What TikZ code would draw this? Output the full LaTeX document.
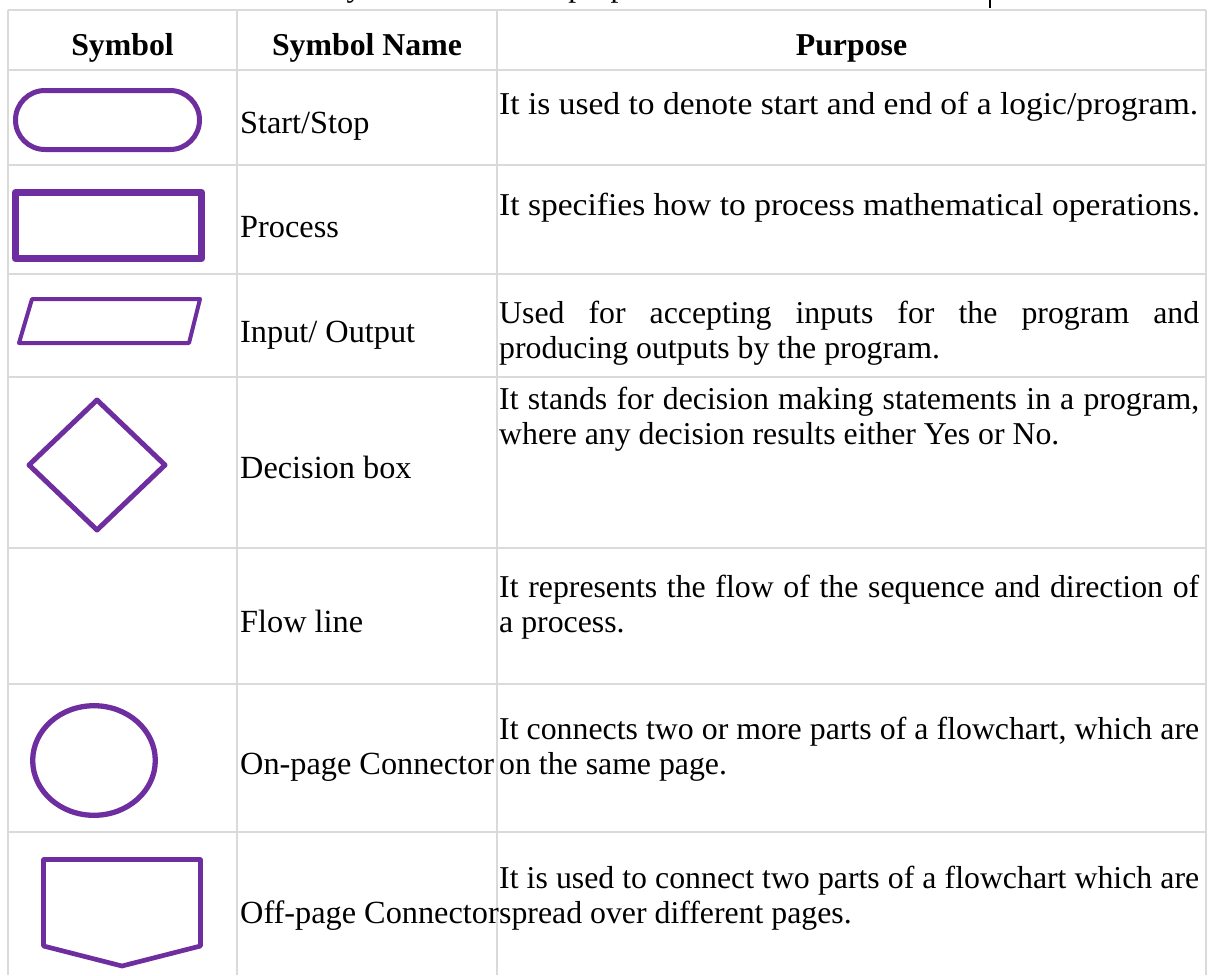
\documentclass[tikz,border=0pt]{standalone}
\usepackage{fontspec}
\usepackage{graphicx}
\setmainfont{Liberation Serif}
\definecolor{symviolet}{RGB}{110,46,160}
\definecolor{gridgray}{RGB}{218,218,218}
\begin{document}
\begin{tikzpicture}[x=1pt,y=-1pt,
  rule/.style={draw=gridgray,line width=2.2pt},
  symline/.style={draw=symviolet,line join=round},
  txt/.style={inner sep=0pt,font=\fontsize{31.8pt}{35pt}\selectfont},
  headtxt/.style={txt,font=\fontsize{31.8pt}{35pt}\selectfont\bfseries,anchor=base},
  celltxt/.style={txt,anchor=base west},
  nametxt/.style={celltxt,font=\fontsize{32.3pt}{35pt}\selectfont}
]
\useasboundingbox (0,0) rectangle (1215,975);
% first lines of the purpose cells fill the cell width
\newcommand\fullline[1]{\makebox[700pt][s]{#1}}
\newcommand\wideline[1]{\scalebox{1.054}[1]{#1}}

% line of text above the table, mostly cut off by the page edge
\begin{scope}
  \clip (0,0) rectangle (1215,975);
  \node[celltxt] (above) at (334,-4) {symbols and their purpose};
\end{scope}
\draw[line width=1.6pt] (990,0) -- (990,8);

% table rules
\foreach \y in {10,70,165,274,377,548,684,832}
  \draw[rule] (8,\y) -- (1206,\y);
\foreach \x in {8,237,497,1206}
  \draw[rule] (\x,10) -- (\x,975);

% header
\node[headtxt] (hsym)  at (122.5,55) {Symbol};
\node[headtxt] (hname) at (367,55)   {Symbol Name};
\node[headtxt] (hpurp) at (851.5,55) {Purpose};

% symbols
\draw[symline,line width=5pt,rounded corners=29.4pt] (15.5,90.5) rectangle (199.5,149.5);
\draw[symline,line width=7pt] (15.5,192.5) rectangle (201.5,258.5);
\draw[symline,line width=4pt] (32,299) -- (200,299) -- (189,343) -- (19,343) -- cycle;
\draw[symline,line width=5pt] (97,400) -- (165,465) -- (97,530) -- (29,465) -- cycle;
\draw[symline,line width=5.3pt] (94,760.5) ellipse [x radius=61.3pt, y radius=54.8pt];
\draw[symline,line width=4.7pt] (43.5,859.5) -- (200.5,859.5) -- (200.5,946) -- (122,966) -- (43.5,946) -- cycle;

% symbol names
\node[nametxt] (n1) at (240,133) {Start/Stop};
\node[nametxt] (n2) at (240,237) {Process};
\node[nametxt] (n3) at (240,342) {Input/ Output};
\node[nametxt] (n4) at (240,478) {Decision box};
\node[nametxt] (n5) at (240,632) {Flow line};
\node[nametxt] (n6) at (240,774) {On-page Connector};
\node[nametxt] (n7) at (240,923) {Off-page Connector};

% purposes
\node[celltxt] (p1)  at (499,114) {\wideline{It is used to denote start and end of a logic/program.}};
\node[celltxt] (p2)  at (499,215) {\wideline{It specifies how to process mathematical operations.}};
\node[celltxt] (p3a) at (499,323) {\fullline{Used for accepting inputs for the program and}};
\node[celltxt] (p3b) at (499,358) {producing outputs by the program.};
\node[celltxt] (p4a) at (499,409) {\fullline{It stands for decision making statements in a program,}};
\node[celltxt] (p4b) at (499,444) {where any decision results either Yes or No.};
\node[celltxt] (p5a) at (499,597) {\fullline{It represents the flow of the sequence and direction of}};
\node[celltxt] (p5b) at (499,632) {a process.};
\node[celltxt] (p6a) at (499,739) {\fullline{It connects two or more parts of a flowchart, which are}};
\node[celltxt] (p6b) at (499,774) {on the same page.};
\node[celltxt] (p7a) at (499,888) {\fullline{It is used to connect two parts of a flowchart which are}};
\node[celltxt] (p7b) at (499,923) {spread over different pages.};
\end{tikzpicture}
\end{document}
